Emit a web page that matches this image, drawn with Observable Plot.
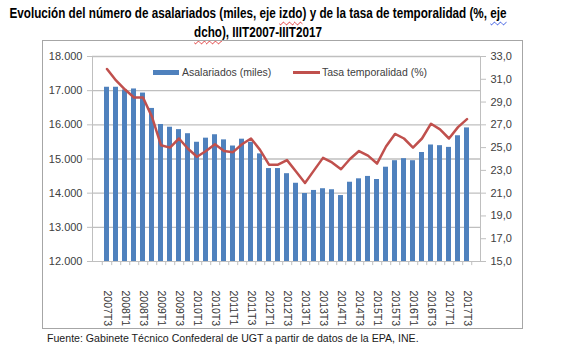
<!DOCTYPE html>
<html>
<head>
<meta charset="utf-8">
<script src="https://cdn.jsdelivr.net/npm/d3@7"></script>
<script src="https://cdn.jsdelivr.net/npm/@observablehq/plot@0.6"></script>
<style>
  html, body { margin: 0; padding: 0; background: #fff; }
  body { width: 577px; height: 364px; position: relative; overflow: hidden; font-family: "Liberation Sans", Arial, sans-serif; }
  .tl { position: absolute; left: 258px; font-family: "Liberation Sans", Arial, sans-serif; font-weight: bold; font-size: 14.2px; line-height: 18px; color: #000; white-space: nowrap; transform-origin: 0 50%; }
  .sq { text-decoration: underline wavy #e03030; text-decoration-thickness: 1px; text-underline-offset: 3px; }
  .sqb { text-decoration: underline wavy #3050e0; text-decoration-thickness: 1px; text-underline-offset: 3px; }
  #frame { position: absolute; left: 42px; top: 40px; width: 481px; height: 289px; box-sizing: border-box; border: 1px solid #A6A6A6; }
  #chart { position: absolute; left: 0; top: 40px; }
  .leg { position: absolute; font-size: 10.5px; color: #404040; line-height: 12px; white-space: nowrap; }
  #caption { position: absolute; left: 47px; top: 332px; font-size: 10.6px; color: #1a1a1a; white-space: nowrap; }
</style>
</head>
<body>
<div class="tl" id="t1" style="top:4px;">Evolución del número de asalariados (miles, eje <span class="sq">izdo</span>) y de la tasa de temporalidad (%, <span class="sqb">eje</span></div>
<div class="tl" id="t2" style="top:23px;"><span class="sq">dcho</span>), IIIT2007-IIIT2017</div>
<div id="frame"></div>
<div id="chart"></div>
<div class="leg" style="left:153px;top:70px;width:26px;height:5px;background:#4F81BD;"></div>
<div class="leg" style="left:182px;top:66px;">Asalariados (miles)</div>
<div class="leg" style="left:293px;top:71px;width:27px;height:2.5px;background:#C0504D;"></div>
<div class="leg" style="left:322px;top:66px;">Tasa temporalidad (%)</div>
<div id="caption">Fuente: Gabinete Técnico Confederal de UGT a partir de datos de la EPA, INE.</div>
<script>
const quarters = [
  "2007T3","2007T4","2008T1","2008T2","2008T3","2008T4","2009T1","2009T2","2009T3","2009T4",
  "2010T1","2010T2","2010T3","2010T4","2011T1","2011T2","2011T3","2011T4","2012T1","2012T2",
  "2012T3","2012T4","2013T1","2013T2","2013T3","2013T4","2014T1","2014T2","2014T3","2014T4",
  "2015T1","2015T2","2015T3","2015T4","2016T1","2016T2","2016T3","2016T4","2017T1","2017T2","2017T3"
];
const asalariados = [
  17100,17100,17020,17050,16930,16480,16010,15930,15860,15740,
  15490,15610,15710,15560,15380,15580,15490,15150,14720,14720,
  14570,14290,13990,14080,14130,14100,13930,14320,14420,14490,
  14400,14760,14950,15010,14950,15190,15410,15390,15340,15680,15910
];
const tasaTemporalidad = [
  31.9,30.9,30.1,29.4,29.4,27.7,25.2,25.0,25.8,24.9,
  24.2,24.7,25.3,24.7,24.6,25.3,25.8,24.8,23.5,23.5,
  23.9,22.9,21.9,23.0,24.1,23.7,23.1,24.0,24.7,24.3,
  23.6,25.1,26.2,25.8,25.0,25.8,27.1,26.6,25.8,26.8,27.5
];
const xTickLabels = quarters.filter((q, i) => i % 2 === 0);
const leftTicks = [12000,13000,14000,15000,16000,17000,18000];
const rightTicks = [15,17,19,21,23,25,27,29,31,33];

const leftDomain = [12000, 18000];
const rightDomain = [15, 33];
const toLeft = t => leftDomain[0] + (t - rightDomain[0]) * (leftDomain[1] - leftDomain[0]) / (rightDomain[1] - rightDomain[0]);
const fromLeft = v => rightDomain[0] + (v - leftDomain[0]) * (rightDomain[1] - rightDomain[0]) / (leftDomain[1] - leftDomain[0]);

const loc = d3.formatLocale({decimal: ",", thousands: ".", grouping: [3], currency: ["", ""]});
const leftFmt = loc.format(",.0f");
const rightFmt = loc.format(".1f");

const data = quarters.map((q, i) => ({q, asal: asalariados[i], tasa: tasaTemporalidad[i]}));

const W = 577, H = 290, mL = 92, mR = 97, mT = 16, mB = 69;
const step = (W - mL - mR) / quarters.length;
const gridColor = "#BFBFBF";

const chart = Plot.plot({
  width: W, height: H,
  marginLeft: mL, marginRight: mR, marginTop: mT, marginBottom: mB,
  style: {fontFamily: "'Liberation Sans', Arial, sans-serif", fontSize: "11px", background: "transparent", overflow: "visible"},
  x: {type: "band", domain: quarters, paddingInner: 0.47, paddingOuter: 0.235, axis: null},
  y: {domain: leftDomain, axis: null},
  marks: [
    Plot.ruleY(leftTicks.slice(1), {stroke: gridColor, strokeWidth: 1.3}),
    Plot.barY(data, {x: "q", y1: leftDomain[0], y2: "asal", fill: "#4F81BD"}),
    Plot.line(data, {x: "q", y: d => toLeft(d.tasa), stroke: "#C0504D", strokeWidth: 2.5, strokeLinejoin: "round"}),
    Plot.frame({stroke: gridColor}),
    Plot.ruleX(quarters, {x: d => d, dx: step / 2, y1: leftDomain[0], y2: leftDomain[0] - 120, stroke: gridColor}),
    Plot.ruleX([quarters[0]], {x: d => d, dx: -step / 2, y1: leftDomain[0], y2: leftDomain[0] - 120, stroke: gridColor}),
    Plot.axisY({anchor: "left", ticks: leftTicks, tickFormat: leftFmt, tickSize: 5, tickPadding: 5, stroke: gridColor, fill: "#404040", label: null}),
    Plot.axisY({anchor: "right", ticks: rightTicks.map(toLeft), tickFormat: v => rightFmt(fromLeft(v)), tickSize: 5, tickPadding: 5, stroke: gridColor, fill: "#404040", label: null}),
    Plot.axisX({ticks: xTickLabels, tickSize: 0, tickPadding: 29, tickRotate: 90, fontSize: 10.5, fill: "#333333", label: null})
  ]
});
document.getElementById("chart").appendChild(chart);

// fit the title lines horizontally to the reference width
const t1 = document.getElementById("t1"), t2 = document.getElementById("t2");
const w1 = t1.getBoundingClientRect().width, w2 = t2.getBoundingClientRect().width;
const s = 497 / w1;
t1.style.transform = `translateX(${-w1 * s / 2}px) scaleX(${s})`;
t2.style.transform = `translateX(${-w2 * s / 2}px) scaleX(${s})`;
</script>
</body>
</html>
